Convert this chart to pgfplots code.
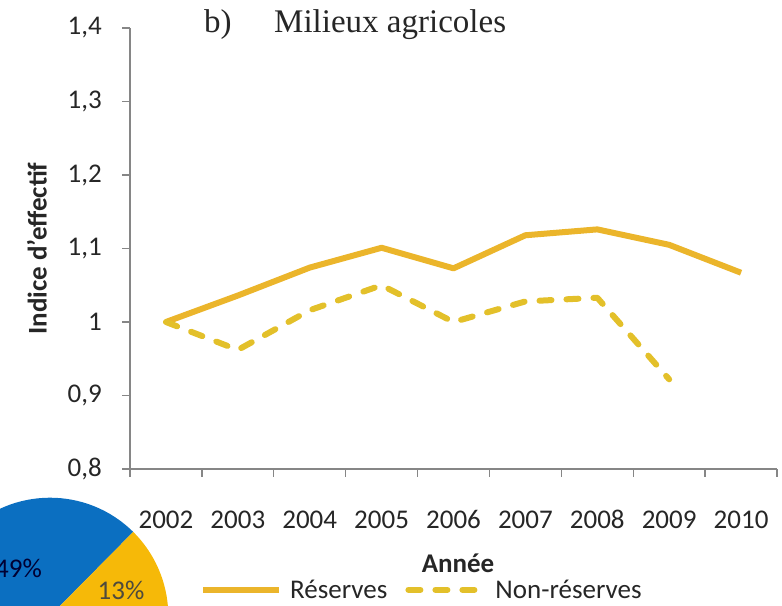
\documentclass[border=0pt]{standalone}
\usepackage{pgfplots}
\pgfplotsset{compat=1.18}
\usepackage{pgfplotstable}
\usepackage{fontspec}
\setmainfont{Carlito}
\newfontfamily\seriffont{Liberation Serif}
\definecolor{resc}{HTML}{EBB52B}
\definecolor{nresc}{HTML}{E3C02A}
\definecolor{axgray}{HTML}{868686}
\definecolor{txt}{HTML}{262626}
\definecolor{pieblue}{HTML}{0B6FC1}
\definecolor{pieyellow}{HTML}{F6B908}

\pgfplotstableread{
year val
2002 1.000
2003 1.036
2004 1.074
2005 1.101
2006 1.073
2007 1.118
2008 1.126
2009 1.105
2010 1.067
}\reserves
\pgfplotstableread{
year val
2002 1.000
2003 0.962
2004 1.016
2005 1.050
2006 1.000
2007 1.028
2008 1.033
2009 0.922
}\nonreserves

\begin{document}
\begin{tikzpicture}
\useasboundingbox (0,0) rectangle (782bp,606bp);
% fragment of a neighbouring pie chart
\begin{scope}
\clip (0,0) rectangle (782bp,606bp);
\fill[pieblue] (50bp,-10bp) -- ++(45.3:118.3bp) arc[start angle=45.3, end angle=221.7, radius=118.3bp] -- cycle;
\fill[pieyellow] (50bp,-10bp) -- ++(-1.5:118.3bp) arc[start angle=-1.5, end angle=45.3, radius=118.3bp] -- cycle;
\node[anchor=east, inner sep=0pt, text=black!80!blue, font=\fontsize{27bp}{32bp}\selectfont] at (42bp,38bp) {49\%};
\node[anchor=center, inner sep=0pt, text=black!80!yellow, font=\fontsize{27bp}{32bp}\selectfont] at (121bp,16bp) {13\%};
\end{scope}

\begin{axis}[
  at={(130bp,137bp)}, anchor=south west,
  scale only axis, width=647bp, height=441bp,
  xmin=0, xmax=9, ymin=0.8, ymax=1.4,
  axis lines=left,
  axis line style={-, axgray, line width=1.6bp},
  every tick/.style={axgray, line width=1.4bp},
  tick align=outside,
  xtick={0.5,1.5,...,8.5},
  xticklabels={2002,2003,2004,2005,2006,2007,2008,2009,2010},
  minor xtick={0,1,...,9},
  ytick={0.8,0.9,...,1.41},
  minor ytick={0.8,0.9,...,1.41},
  major tick length=0pt,
  minor tick length=8bp,
  /pgf/number format/.cd, assume math mode=true, use comma, fixed, precision=1,
  /pgfplots/.cd,
  tick label style={font=\fontsize{27bp}{32bp}\selectfont, text=txt, inner sep=0pt},
  xticklabel style={anchor=base},
  xticklabel shift=59bp,
  yticklabel style={anchor=east},
  yticklabel shift=28bp,
  ylabel={Indice d'effectif},
  ylabel style={at={(axis description cs:-0.1437,0.5)}, anchor=center, font=\bfseries\fontsize{27bp}{32bp}\selectfont, text=txt, inner sep=0pt},
  xlabel={Année},
  xlabel style={at={(axis description cs:0.507,-0.2336)}, anchor=base, font=\bfseries\fontsize{27bp}{32bp}\selectfont, text=txt, inner sep=0pt},
  legend columns=-1,
  legend image code/.code={\draw[#1] (0bp,0bp) -- (76bp,0bp);},
  legend style={draw=none, fill=none, inner sep=0pt,
    at={(axis description cs:0.1082,-0.274)}, anchor=west,
    font=\fontsize{27bp}{32bp}\selectfont, text=txt,
    /tikz/every odd column/.append style={column sep=8bp},
    /tikz/every even column/.append style={column sep=18bp},
    nodes={inner sep=0pt}},
  clip=false,
]
\addplot[resc, line width=6bp, line join=round] table[x expr=\thisrow{year}-2001.5, y=val] {\reserves};
\addlegendentry{Réserves}
\addplot[nresc, line width=6bp, dash pattern=on 12bp off 15bp, line cap=round, line join=round] table[x expr=\thisrow{year}-2001.5, y=val] {\nonreserves};
\addlegendentry{Non-réserves}
\end{axis}

\node[anchor=base west, inner sep=0pt, font=\seriffont\fontsize{33bp}{38bp}\selectfont, text=black!85] at (204bp,573bp) {b)};
\node[anchor=base west, inner sep=0pt, font=\seriffont\fontsize{33bp}{38bp}\selectfont, text=black!85] at (274bp,573bp) {Milieux agricoles};
\end{tikzpicture}
\end{document}
